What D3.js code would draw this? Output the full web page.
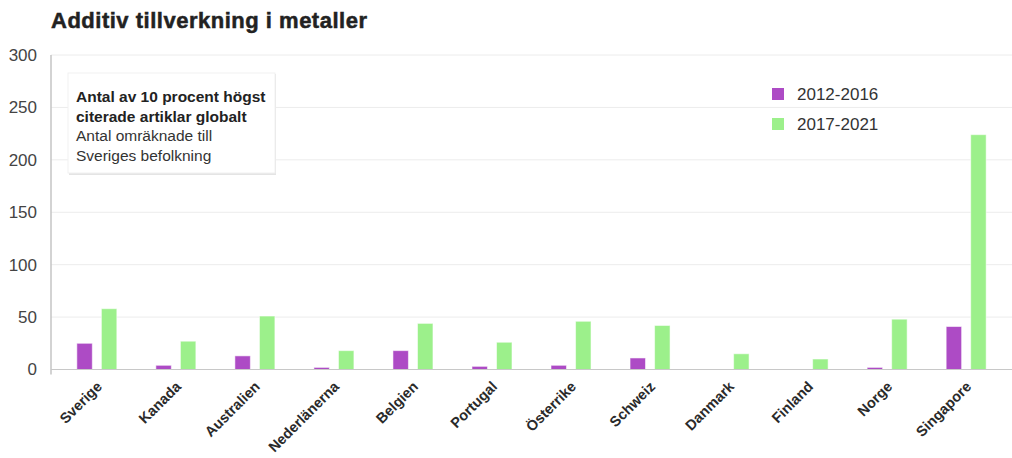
<!DOCTYPE html>
<html>
<head>
<meta charset="utf-8">
<script src="https://cdn.jsdelivr.net/npm/d3@7"></script>
<style>
  body { margin: 0; background: #fff; }
  svg { display: block; }
</style>
</head>
<body>
<svg id="chart" width="1012" height="458"></svg>
<script>
// Länder och värden per period
const countries = ["Sverige", "Kanada", "Australien", "Nederlänerna", "Belgien", "Portugal",
                   "Österrike", "Schweiz", "Danmark", "Finland", "Norge", "Singapore"];
const periods = ["2012-2016", "2017-2021"];
const values2012_2016 = [25, 4, 13, 2, 18, 3, 4, 11, 0, 0, 2, 41];
const values2017_2021 = [58, 27, 51, 18, 44, 26, 46, 42, 15, 10, 48, 224];
const yTicks = [0, 50, 100, 150, 200, 250, 300];
const colors = ["#ad4bc5", "#9cf08b"];
const titleText = "Additiv tillverkning i metaller";
const noteBold = ["Antal av 10 procent högst", "citerade artiklar globalt"];
const noteRegular = ["Antal omräknade till", "Sveriges befolkning"];

const seriesValues = [values2012_2016, values2017_2021];
const rows = countries.map((c, i) => ({ country: c, vals: periods.map((p, j) => ({ period: p, value: seriesValues[j][i], idx: j })) }));

const svg = d3.select("#chart");
const font = "'Liberation Sans', Arial, sans-serif";
const plot = { left: 51, right: 1012, top: 55, bottom: 369.5 };

const x0 = d3.scaleBand().domain(countries).range([plot.left, plot.right]).paddingInner(0).paddingOuter(0.08);
const x1 = d3.scaleBand().domain(periods).range([-20, 20]).paddingInner(0.37);
const y = d3.scaleLinear().domain([0, 300]).range([plot.bottom, plot.top]);

// Title
svg.append("text")
  .attr("x", 51).attr("y", 28)
  .attr("font-family", font).attr("font-weight", "bold").attr("font-size", 22)
  .attr("textLength", 316).attr("lengthAdjust", "spacing")
  .attr("fill", "#222").attr("stroke", "#222").attr("stroke-width", 0.5)
  .text(titleText);

// Gridlines
svg.append("g").selectAll("line").data(yTicks.filter(d => d > 0)).join("line")
  .attr("x1", plot.left).attr("x2", plot.right)
  .attr("y1", d => y(d)).attr("y2", d => y(d))
  .attr("stroke", "#ececec").attr("stroke-width", 1);

// Y axis labels
const yAxis = d3.axisLeft(y).tickValues(yTicks).tickSize(0).tickPadding(14);
const gy = svg.append("g").attr("transform", `translate(${plot.left},0)`).call(yAxis);
gy.select(".domain").remove();
gy.selectAll("text")
  .attr("font-family", font)
  .attr("font-size", 17).attr("fill", "#444");

// Vertical axis line
svg.append("line")
  .attr("x1", plot.left).attr("x2", plot.left).attr("y1", plot.top).attr("y2", plot.bottom + 5)
  .attr("stroke", "#c4c4c4").attr("stroke-width", 1.5);

// Bars
const groups = svg.append("g").selectAll("g").data(rows).join("g")
  .attr("transform", d => `translate(${x0(d.country) + x0.bandwidth() / 2},0)`);
groups.selectAll("rect").data(d => d.vals.filter(v => v.value > 0)).join("rect")
  .attr("x", d => x1(d.period))
  .attr("width", x1.bandwidth())
  .attr("y", d => y(d.value))
  .attr("height", d => y(0) - y(d.value))
  .attr("fill", d => colors[d.idx])
  .attr("stroke", "rgba(255,255,255,0.55)").attr("stroke-width", 1);

// Baseline
svg.append("line")
  .attr("x1", plot.left).attr("x2", plot.right).attr("y1", y(0)).attr("y2", y(0))
  .attr("stroke", "#c8c8c8").attr("stroke-width", 1.2);

// X axis labels
const xAxis = d3.axisBottom(x0).tickSize(0).tickPadding(0);
const gx = svg.append("g").attr("transform", `translate(0,${plot.bottom})`).call(xAxis);
gx.select(".domain").remove();
gx.selectAll("text")
  .attr("font-family", font)
  .attr("font-weight", "bold").attr("font-size", 14.5).attr("fill", "#2a2a2a")
  .attr("text-anchor", "end")
  .attr("dy", null)
  .attr("transform", "translate(6,18) rotate(-45)");

// Note box
const box = svg.append("g").attr("transform", "translate(68,73)");
box.append("rect").attr("x", 1).attr("y", 1).attr("width", 207).attr("height", 101).attr("fill", "#e4e4e4");
box.append("rect").attr("x", 0).attr("y", 0).attr("width", 207).attr("height", 100).attr("fill", "#fff")
  .attr("stroke", "#f1f1f1");
noteBold.concat(noteRegular).forEach((t, i) => {
  box.append("text")
    .attr("x", 8).attr("y", 29 + i * 19.6)
    .attr("font-family", font).attr("font-size", 15.5)
    .attr("font-weight", i < 2 ? "bold" : "normal")
    .attr("fill", i < 2 ? "#222" : "#333")
    .text(t);
});

// Legend
const legend = svg.append("g").attr("transform", "translate(772,88)");
periods.forEach((p, i) => {
  const g = legend.append("g").attr("transform", `translate(0,${i * 30})`);
  g.append("rect").attr("width", 12).attr("height", 12).attr("fill", colors[i]);
  g.append("text").attr("x", 25).attr("y", 12)
    .attr("font-family", font).attr("font-size", 17)
    .attr("fill", "#333").text(p);
});
</script>
</body>
</html>
